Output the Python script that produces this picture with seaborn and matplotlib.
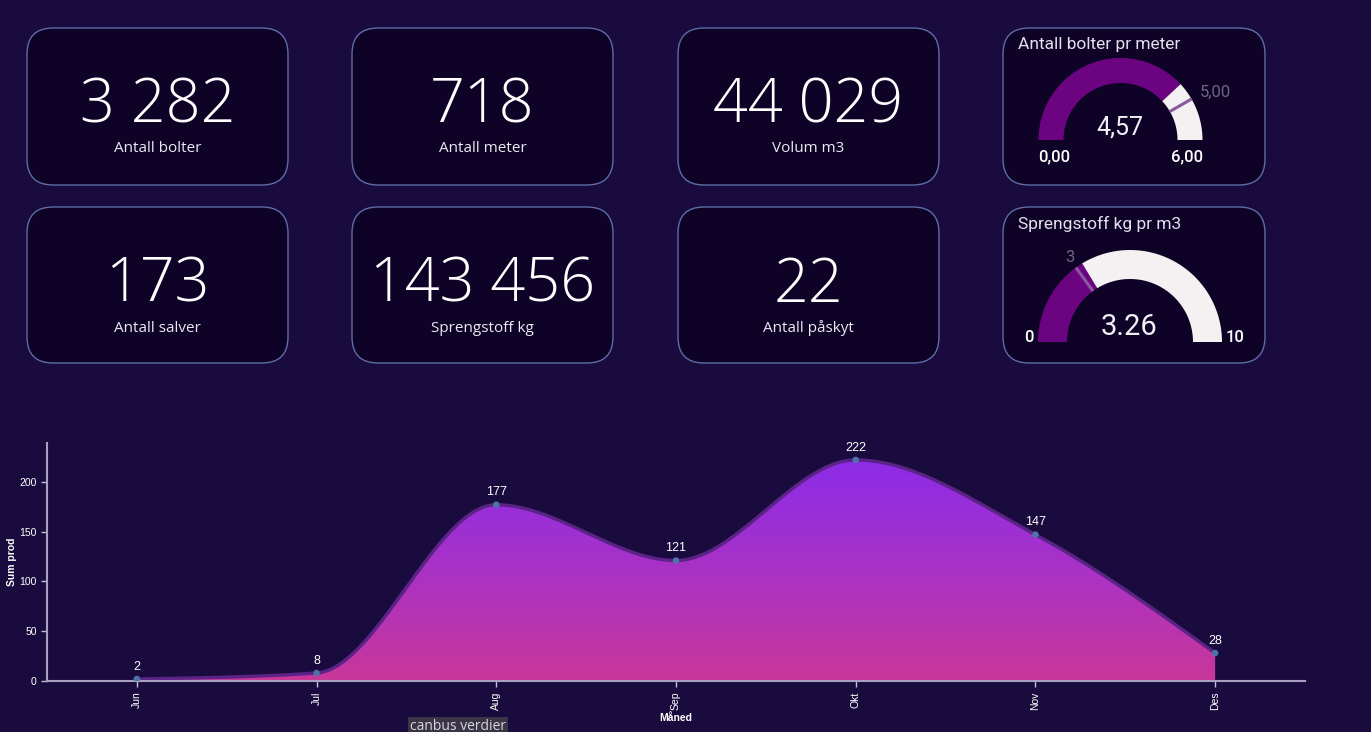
import numpy as np
import pandas as pd
import matplotlib
matplotlib.use("Agg")
import matplotlib.pyplot as plt
import seaborn as sns
from matplotlib.patches import FancyBboxPatch, Polygon
from matplotlib.colors import LinearSegmentedColormap

# ---------------- data ----------------
months = ["Jun", "Jul", "Aug", "Sep", "Okt", "Nov", "Des"]
sum_prod = [2, 8, 177, 121, 222, 147, 28]

kpi_values = ["3 282", "718", "44 029", "173", "143 456", "22"]
kpi_labels = ["Antall bolter", "Antall meter", "Volum m3",
              "Antall salver", "Sprengstoff kg", "Antall påskyt"]

gauge_titles = ["Antall bolter pr meter", "Sprengstoff kg pr m3"]
gauge_values = [4.57, 3.26]
gauge_targets = [5.0, 3.0]
gauge_max = [6.0, 10.0]
gauge_value_text = ["4,57", "3.26"]
gauge_min_text = ["0,00", "0"]
gauge_max_text = ["6,00", "10"]
gauge_target_text = ["5,00", "3"]

# ---------------- style ----------------
BG = "#1a0b3e"
CARD = "#0e0326"
EDGE = "#5f6ca6"
PURPLE = "#6c0481"
WHITE_ARC = "#f3f1f1"

sns.set_theme(style="dark", rc={"axes.facecolor": "none", "figure.facecolor": BG})
plt.rcParams["font.family"] = ["Liberation Sans", "DejaVu Sans"]

W, H = 1371, 732
fig = plt.figure(figsize=(W / 100, H / 100), dpi=100)
fig.patch.set_facecolor(BG)

ov = fig.add_axes([0, 0, 1, 1])
ov.set_xlim(0, W)
ov.set_ylim(H, 0)
ov.axis("off")
ov.set_zorder(0)

def card(x, y, w, h):
    ov.add_patch(FancyBboxPatch((x, y), w, h,
                                boxstyle="round,pad=0,rounding_size=26",
                                fc=CARD, ec=EDGE, lw=1.0))

# KPI cards
card_x = [27, 352, 678]
row_y = [28, 207]
row_h = [157, 156]
for i, (val, lab) in enumerate(zip(kpi_values, kpi_labels)):
    r, c = divmod(i, 3)
    x0, y0 = card_x[c], row_y[r]
    card(x0, y0, 261, row_h[r])
    cx = x0 + 130.5
    ov.text(cx, y0 + 79, val, ha="center", va="center", color="white",
            fontsize=44, family=["Open Sans", "DejaVu Sans"], fontweight="light")
    ov.text(cx, y0 + 121, lab, ha="center", va="center", color="#ece8f4",
            fontsize=11, family=["Open Sans", "DejaVu Sans"])

# Gauges
def arc_poly(cx, cy, r_in, r_out, a0, a1, **kw):
    t = np.radians(np.linspace(a0, a1, 120))
    xo = cx + r_out * np.cos(t); yo = cy - r_out * np.sin(t)
    xi = cx + r_in * np.cos(t[::-1]); yi = cy - r_in * np.sin(t[::-1])
    pts = np.column_stack([np.concatenate([xo, xi]), np.concatenate([yo, yi])])
    ov.add_patch(Polygon(pts, closed=True, **kw))

g_specs = [
    dict(y=28, h=157, cx=1120.5, cy=140, ro=82, ri=57, vfs=18, vy=127,
         minx=1054, maxx=1187, my=157, ty=45),
    dict(y=207, h=156, cx=1130, cy=342, ro=92, ri=63, vfs=21, vy=327,
         minx=1029, maxx=1235, my=337, ty=224),
]
gfont = ["Roboto", "DejaVu Sans"]
for k, g in enumerate(g_specs):
    card(1003, g["y"], 262, g["h"])
    ov.text(1018, g["ty"], gauge_titles[k], ha="left", va="center",
            color="#e4e0f0", fontsize=12.5, family=gfont)
    frac = gauge_values[k] / gauge_max[k]
    a_val = 180 - 180 * frac
    arc_poly(g["cx"], g["cy"], g["ri"], g["ro"], 180, a_val, fc=PURPLE, ec="none")
    arc_poly(g["cx"], g["cy"], g["ri"], g["ro"], a_val, 0, fc=WHITE_ARC, ec="none")
    ta = np.radians(180 - 180 * gauge_targets[k] / gauge_max[k])
    ov.plot([g["cx"] + g["ri"] * np.cos(ta), g["cx"] + g["ro"] * np.cos(ta)],
            [g["cy"] - g["ri"] * np.sin(ta), g["cy"] - g["ro"] * np.sin(ta)],
            color="#8a5aa0", lw=2.2, solid_capstyle="butt")
    rl = g["ro"] + 10
    ov.text(g["cx"] + rl * np.cos(ta), g["cy"] - rl * np.sin(ta) - 2,
            gauge_target_text[k], ha="center" if k == 1 else "left", va="center",
            color="#6e6684", fontsize=12, family=gfont)
    ov.text(g["cx"] - 1, g["vy"], gauge_value_text[k], ha="center", va="center",
            color="#f2eff7", fontsize=g["vfs"], family=gfont)
    ov.text(g["minx"], g["my"], gauge_min_text[k], ha="center", va="center",
            color="white", fontsize=12, family=gfont, fontweight="medium")
    ov.text(g["maxx"], g["my"], gauge_max_text[k], ha="center", va="center",
            color="white", fontsize=12, family=gfont, fontweight="medium")

# ---------------- area chart ----------------
def monotone_x(xv, yv, n=60):
    xv = np.asarray(xv, float); yv = np.asarray(yv, float)
    h = np.diff(xv); s = np.diff(yv) / h
    t = np.zeros_like(yv)
    for i in range(1, len(yv) - 1):
        p = (s[i - 1] * h[i] + s[i] * h[i - 1]) / (h[i - 1] + h[i])
        t[i] = (np.sign(s[i - 1]) + np.sign(s[i])) * min(abs(s[i - 1]), abs(s[i]), 0.5 * abs(p))
    t[0] = (3 * s[0] - t[1]) / 2
    t[-1] = (3 * s[-1] - t[-2]) / 2
    X, Y = [], []
    for i in range(len(h)):
        u = np.linspace(0, 1, n, endpoint=(i == len(h) - 1))
        h00 = 2 * u**3 - 3 * u**2 + 1; h10 = u**3 - 2 * u**2 + u
        h01 = -2 * u**3 + 3 * u**2; h11 = u**3 - u**2
        X.append(xv[i] + u * h[i])
        Y.append(h00 * yv[i] + h10 * h[i] * t[i] + h01 * yv[i + 1] + h11 * h[i] * t[i + 1])
    return np.concatenate(X), np.concatenate(Y)

df = pd.DataFrame({"pos": np.arange(len(months)), "month": months, "value": sum_prod})
cx_, cy_ = monotone_x(df["pos"], df["value"])
curve = pd.DataFrame({"pos": cx_, "value": cy_})

ax = fig.add_axes([47 / W, 51 / H, 1258 / W, 238 / H])
ax.set_zorder(1)
ax.set_facecolor("none")
ax.set_xlim(-0.5, 6.5)
ax.set_ylim(0, 239)

fill = ax.fill_between(curve["pos"], 0, curve["value"], color="none", lw=0)
cmap = LinearSegmentedColormap.from_list("g", ["#c93799", "#a932c6", "#8c2ce8"])
grad = np.linspace(0, 1, 256).reshape(-1, 1)
im = ax.imshow(grad, cmap=cmap, aspect="auto", origin="lower",
               extent=[-0.5, 6.5, 0, max(sum_prod)], zorder=1)
im.set_clip_path(fill.get_paths()[0], transform=ax.transData)

sns.lineplot(data=curve, x="pos", y="value", ax=ax, color="#5a2385", lw=2.4,
             estimator=None, sort=False, zorder=2)
sns.scatterplot(data=df, x="pos", y="value", ax=ax, color="#4c74a6", s=22,
                edgecolor="none", zorder=3)
for _, row in df.iterrows():
    ax.annotate(str(row["value"]), (row["pos"], row["value"]), xytext=(0, 4.5),
                textcoords="offset points", ha="center", va="bottom",
                color="white", fontsize=9)

ax.set_xticks(df["pos"])
ax.set_xticklabels(months, rotation=90)
ax.set_yticks([0, 50, 100, 150, 200])
ax.tick_params(axis="both", colors="#c4bcd8", labelcolor="white", labelsize=7.5,
               length=4, width=1, bottom=True, left=True)
ax.set_xlabel("Måned", color="white", fontsize=7.5, fontweight="bold", labelpad=2)
ax.set_ylabel("Sum prod", color="white", fontsize=7.5, fontweight="bold")
ax.yaxis.set_label_coords((17 - 47) / 1258, 0.5)
ax.grid(False)
for sp in ["top", "right"]:
    ax.spines[sp].set_visible(False)
for sp in ["left", "bottom"]:
    ax.spines[sp].set_visible(True)
    ax.spines[sp].set_color("#a89fc2")
    ax.spines[sp].set_linewidth(1.5)

fig.text(410 / W, 1 - 727 / H, "canbus verdier", ha="left", va="center",
         color="#d8d6dc", fontsize=10, family=["Open Sans", "DejaVu Sans"],
         bbox=dict(boxstyle="square,pad=0.15", fc="#3a3546", ec="none"))

fig.savefig("out.png", dpi=100, facecolor=BG)
